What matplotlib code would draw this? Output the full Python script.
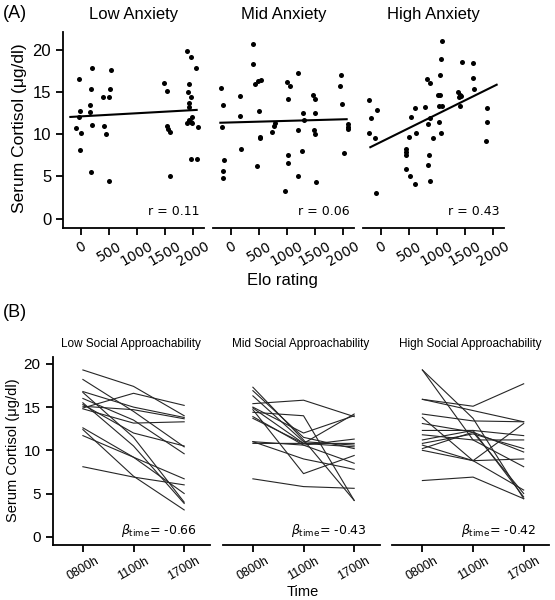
#!/usr/bin/env python3
"""
Cortisol vs Elo rating by anxiety group (A) and cortisol across the day
by social approachability group (B).
"""

import numpy as np
import matplotlib
matplotlib.use('Agg')
import matplotlib.pyplot as plt

plt.rcParams['font.family'] = ['Liberation Sans', 'DejaVu Sans']
plt.rcParams['mathtext.fontset'] = 'dejavusans'

# ---- Panel A data: Elo rating vs serum cortisol ----
anxiety_groups = ['Low Anxiety', 'Mid Anxiety', 'High Anxiety']
anxiety_r = ['0.11', '0.06', '0.43']

low_elo = [-36, 196, 536, 173, 512, 399, 506, 167, -12, 167, -36, 203, 417, -83,
           -6, 446, -24, 179, 500, 1488, 1530, 1530, 1554, 1595, 1584, 1899, 1958,
           2048, 1929, 1911, 1958, 1923, 1935, 1988, 1929, 1899, 1958, 1988, 2083,
           1958, 2065]
low_cort = [16.5, 17.8, 17.6, 15.4, 15.4, 14.4, 14.4, 13.5, 12.7, 12.6, 12.0, 11.1,
            11.0, 10.7, 10.1, 10.0, 8.1, 5.5, 4.5, 16.1, 15.1, 11.0, 10.6, 10.3, 5.1,
            19.9, 19.1, 17.8, 16.0, 15.0, 14.4, 13.7, 13.2, 12.0, 11.7, 11.3, 11.4,
            11.3, 10.8, 7.1, 7.1]

mid_elo = [393, 386, 434, 482, 536, 1196, -179, -137, 166, 166, -155, 500, 518, 518,
           179, -132, -137, -137, 470, 1005, 1047, 1018, 761, 785, 738, 1011, 1011,
           964, 1196, 1196, 1273, 1279, 1296, 1470, 1505, 1493, 1487, 1500, 1511,
           1970, 1940, 1982, 2023, 2089, 2089, 2089]
mid_cort = [20.7, 18.3, 15.9, 16.3, 16.4, 17.2, 15.5, 13.5, 14.5, 12.1, 10.9, 12.8,
            9.7, 9.5, 8.3, 6.9, 5.7, 4.8, 6.2, 16.2, 15.7, 14.2, 11.0, 11.3, 10.3,
            7.5, 6.6, 3.3, 10.5, 5.0, 8.0, 12.5, 11.7, 14.7, 14.2, 12.5, 10.5, 10.0,
            4.4, 17.0, 15.7, 13.6, 7.8, 11.2, 10.9, 10.6]

high_elo = [-216, -72, -173, -221, -108, -90, 1086, 1068, 1439, 1637, 1056, 827, 881,
            1637, 1655, 1020, 1056, 1380, 1403, 1427, 1400, 1415, 1043, 1080, 786,
            606, 529, 876, 845, 1038, 1074, 630, 498, 924, 450, 450, 450, 858, 840,
            444, 510, 606, 876, 1883, 1883, 1877]
high_cort = [14.0, 12.9, 11.9, 10.1, 9.6, 3.0, 21.0, 18.9, 18.6, 18.4, 17.0, 16.5,
             16.1, 16.6, 15.4, 14.7, 14.6, 15.0, 14.7, 14.5, 14.4, 13.3, 13.4, 13.4,
             13.2, 13.1, 12.0, 11.9, 11.2, 11.4, 10.2, 10.1, 9.7, 9.5, 8.2, 7.9, 7.6,
             7.5, 6.4, 5.9, 5.1, 4.1, 4.5, 13.1, 11.4, 9.2]

elo_ticks = [0, 500, 1000, 1500, 2000]
cort_ticks = [0, 5, 10, 15, 20]

# ---- Panel B data: cortisol at three sampling times ----
approach_groups = ['Low Social Approachability', 'Mid Social Approachability',
                   'High Social Approachability']
approach_beta = ['-0.66', '-0.43', '-0.42']
time_labels = ['0800h', '1100h', '1700h']

low_approach = [
    [19.3, 17.4, 14.0], [18.2, 14.5, 10.4], [14.9, 16.6, 15.2], [16.8, 15.0, 13.8],
    [16.7, 11.5, 4.0], [15.5, 10.5, 3.85], [15.1, 14.7, 13.65], [14.8, 13.15, 13.3],
    [16.0, 13.5, 9.6], [12.6, 9.2, 6.7], [12.4, 7.0, 3.1], [11.7, 9.2, 5.0],
    [8.1, 6.9, 6.0], [15.3, 12.0, 10.5],
]
mid_approach = [
    [17.3, 11.2, 4.2], [16.9, 11.5, 10.2], [15.4, 15.8, 13.9], [14.9, 10.8, 14.2],
    [14.7, 7.3, 9.4], [14.4, 14.0, 4.2], [13.9, 10.6, 11.3], [13.7, 10.8, 10.8],
    [11.0, 10.6, 8.5], [10.8, 10.8, 10.4], [11.0, 9.0, 7.8], [6.7, 5.8, 5.6],
    [16.3, 11.0, 10.6], [15.0, 12.0, 14.0],
]
high_approach = [
    [19.3, 13.7, 4.4], [15.9, 15.1, 17.7], [15.9, 14.6, 13.3], [14.2, 13.4, 13.3],
    [13.8, 8.8, 13.1], [13.1, 12.1, 5.0], [12.3, 12.3, 11.7], [11.8, 11.2, 8.1],
    [11.2, 12.3, 4.6], [10.8, 11.9, 10.2], [10.6, 8.8, 5.4], [10.2, 12.1, 9.8],
    [10.0, 8.8, 9.0], [6.5, 6.9, 4.4], [19.3, 11.2, 11.2],
]

W, H = 555, 600


def px_axes(fig, x0, y0, x1, y1):
    """Add axes from pixel box (top-left origin)."""
    return fig.add_axes([x0 / W, 1 - y1 / H, (x1 - x0) / W, (y1 - y0) / H])


def style_axes(ax, show_left):
    ax.spines['top'].set_visible(False)
    ax.spines['right'].set_visible(False)
    ax.spines['left'].set_visible(show_left)
    for s in ('left', 'bottom'):
        ax.spines[s].set_linewidth(1.3)
    ax.tick_params(width=1.3, length=5, color='black')
    if not show_left:
        ax.tick_params(axis='y', left=False, labelleft=False)


def plot_panel_a(fig):
    groups = [(low_elo, low_cort), (mid_elo, mid_cort), (high_elo, high_cort)]
    all_elo = low_elo + mid_elo + high_elo
    xfit = np.array([min(all_elo) + 30, max(all_elo) - 25])
    lefts = [63, 213, 363]
    for i, (elo, cort) in enumerate(groups):
        ax = px_axes(fig, lefts[i], 32, lefts[i] + 141, 228)
        ax.scatter(elo, cort, s=13, color='black', linewidths=0, zorder=3)
        slope, icpt = np.polyfit(elo, cort, 1)
        ax.plot(xfit, icpt + slope * xfit, color='black', lw=1.5)
        ax.set_xlim(-322, 2195)
        ax.set_ylim(-1.1, 22.1)
        ax.set_xticks(elo_ticks)
        ax.set_xticklabels([str(t) for t in elo_ticks], rotation=30,
                           family='DejaVu Sans', fontsize=10)
        ax.set_yticks(cort_ticks)
        ax.tick_params(axis='y', labelsize=12)
        ax.tick_params(axis='x', pad=3)
        style_axes(ax, i == 0)
        ax.set_title(anxiety_groups[i], fontsize=12, pad=9)
        ax.text(0.97, 0.05, f'r = {anxiety_r[i]}', transform=ax.transAxes,
                ha='right', va='bottom', family='DejaVu Sans', fontsize=9)
    fig.text(20 / W, 1 - 128 / H, 'Serum Cortisol (μg/dl)', rotation=90,
             ha='center', va='center', fontsize=12.5)
    fig.text(282 / W, 1 - 281 / H, 'Elo rating', ha='center', va='center',
             fontsize=12)
    fig.text(3 / W, 1 - 13 / H, '(A)', ha='left', va='center', fontsize=13)


def plot_panel_b(fig):
    groups = [low_approach, mid_approach, high_approach]
    lefts = [52.5, 222.5, 392]
    x = np.arange(len(time_labels))
    for i, lines in enumerate(groups):
        ax = px_axes(fig, lefts[i], 357, lefts[i] + 157, 545)
        for vals in lines:
            ax.plot(x, vals, color='#262626', lw=0.8)
        ax.set_xlim(-0.6, 2.5)
        ax.set_ylim(-0.96, 20.8)
        ax.set_xticks(x)
        ax.set_xticklabels(time_labels, rotation=30, fontsize=9)
        ax.set_yticks(cort_ticks)
        ax.tick_params(axis='y', labelsize=11)
        ax.tick_params(axis='x', pad=2)
        style_axes(ax, i == 0)
        ax.set_title(approach_groups[i], fontsize=8.5, pad=7)
        ax.text(0.92, 0.03, r'$\beta_{\mathrm{time}}$= ' + approach_beta[i],
                transform=ax.transAxes, ha='right', va='bottom',
                family='DejaVu Sans', fontsize=9)
    fig.text(13 / W, 1 - 450 / H, 'Serum Cortisol (μg/dl)', rotation=90,
             ha='center', va='center', fontsize=10.5)
    fig.text(303 / W, 1 - 592 / H, 'Time', ha='center', va='center',
             fontsize=10.5)
    fig.text(3 / W, 1 - 313 / H, '(B)', ha='left', va='center', fontsize=13)


def main():
    fig = plt.figure(figsize=(W / 100, H / 100), dpi=100)
    plot_panel_a(fig)
    plot_panel_b(fig)
    fig.savefig('out.png', dpi=100, facecolor='white')


if __name__ == '__main__':
    main()
